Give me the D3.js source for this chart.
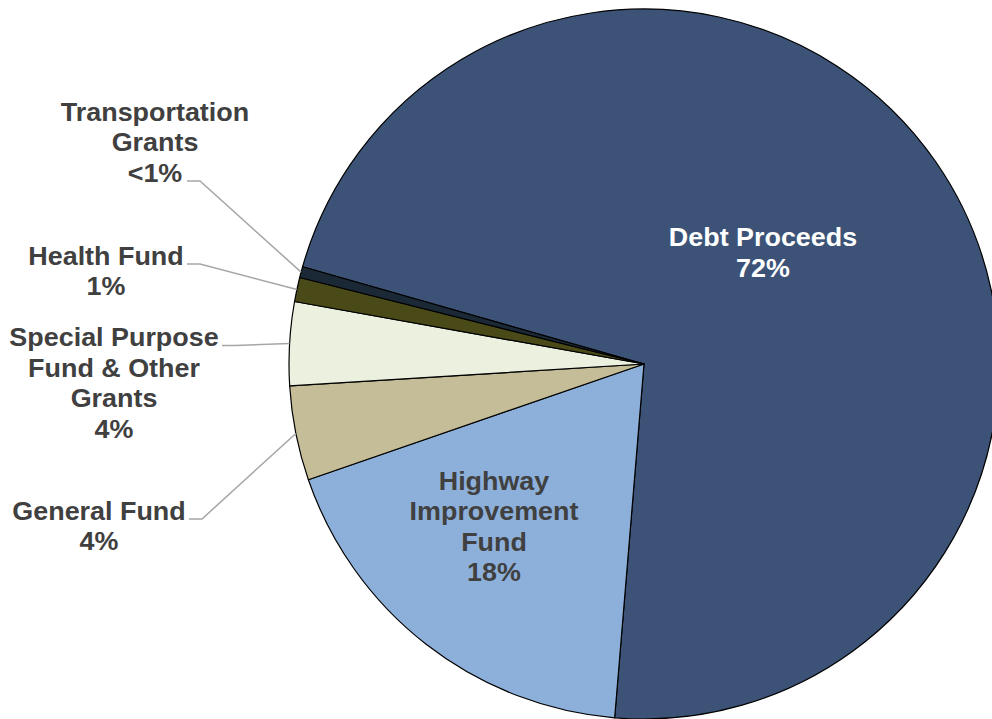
<!DOCTYPE html>
<html>
<head>
<meta charset="utf-8">
<script src="https://cdn.jsdelivr.net/npm/d3@7/dist/d3.min.js"></script>
<style>
  html, body { margin: 0; padding: 0; background: #ffffff; }
  svg { display: block; }
  text { font-family: "Liberation Sans", Arial, sans-serif; font-weight: bold; }
</style>
</head>
<body>
<svg id="chart" width="992" height="719"></svg>
<script>
// Funding sources, in clockwise order from the Debt Proceeds slice
const categories = [
  "Debt Proceeds",
  "Highway Improvement Fund",
  "General Fund",
  "Special Purpose Fund & Other Grants",
  "Health Fund",
  "Transportation Grants"
];
const shares = [71.9, 18.4, 4.3, 3.8, 1.1, 0.5];
const labelLines = [
  ["Debt Proceeds"],
  ["Highway", "Improvement", "Fund"],
  ["General Fund"],
  ["Special Purpose", "Fund & Other", "Grants"],
  ["Health Fund"],
  ["Transportation", "Grants"]
];
const colors = ["#3C5377", "#8DB0DB", "#C4BD97", "#EBF1DE", "#4A4A19", "#1B2936"];

const W = 992, H = 719;
const cx = 644, cy = 364, R = 355;
const lineH = 30.5;

// label placement: inside labels (center + first baseline) and outside labels with leaders
const layout = [
  { inside: true,  x: 763, y: 246.5, fill: "#ffffff" },
  { inside: true,  x: 494, y: 490,   fill: "#404040" },
  { inside: false, x: 99,  y: 520,   leadX: 189 },
  { inside: false, x: 114, y: 346.5, leadX: 222 },
  { inside: false, x: 106, y: 265,   leadX: 187 },
  { inside: false, x: 155, y: 121,   leadX: 187 }
];
// which text line each leader attaches to
const leaderLineIndex = [null, null, 0, 0, 0, 2];

const pctText = v => v < 1 ? "<1%" : d3.format(".0f")(v) + "%";

const svg = d3.select("#chart");
const g = svg.append("g").attr("transform", `translate(${cx},${cy})`);

const startDeg = -74.1;
const pie = d3.pie()
  .sort(null)
  .value(d => d)
  .startAngle(startDeg * Math.PI / 180)
  .endAngle(startDeg * Math.PI / 180 + 2 * Math.PI);

const arcs = pie(shares);
const arc = d3.arc().innerRadius(0).outerRadius(R);

g.selectAll("path.slice")
  .data(arcs)
  .join("path")
  .attr("class", "slice")
  .attr("d", arc)
  .attr("fill", (d, i) => colors[i])
  .attr("stroke", "#000000")
  .attr("stroke-width", 1.2)
  .attr("stroke-linejoin", "round");

// leader lines for the small slices
arcs.forEach((d, i) => {
  const L = layout[i];
  if (L.inside) return;
  const mid = (d.startAngle + d.endAngle) / 2;
  const px = cx + R * Math.sin(mid);
  const py = cy - R * Math.cos(mid);
  const nLines = labelLines[i].length + 1;
  const li = Math.min(leaderLineIndex[i], nLines - 1);
  const ly = L.y + li * lineH - 1;
  svg.append("polyline")
    .attr("points", [[L.leadX, ly], [L.leadX + 13, ly], [px, py]].map(p => p.join(",")).join(" "))
    .attr("fill", "none")
    .attr("stroke", "#A6A6A6")
    .attr("stroke-width", 1.5);
});

// labels (slightly widened lettering)
arcs.forEach((d, i) => {
  const L = layout[i];
  const lines = labelLines[i].concat([pctText(shares[i])]);
  const t = svg.append("text")
    .attr("transform", `translate(${L.x},0) scale(1.055,1)`)
    .attr("text-anchor", "middle")
    .attr("font-size", 25.5)
    .attr("fill", L.fill || "#404040");
  lines.forEach((s, k) => {
    t.append("tspan")
      .attr("x", 0)
      .attr("y", L.y + k * lineH)
      .text(s);
  });
});
</script>
</body>
</html>
